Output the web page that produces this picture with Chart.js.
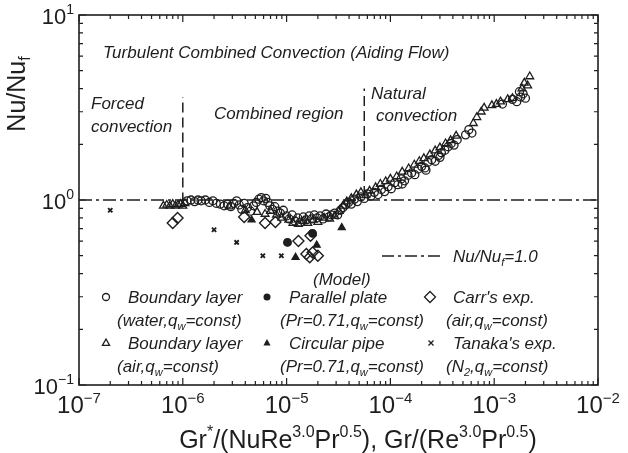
<!DOCTYPE html>
<html>
<head>
<meta charset="utf-8">
<script src="https://cdn.jsdelivr.net/npm/chart.js@4.4.1/dist/chart.umd.min.js"></script>
<style>
  html, body { margin: 0; padding: 0; background: #fff; }
  #wrap { width: 628px; height: 453px; }
</style>
</head>
<body>
<div id="wrap"><canvas id="chart" width="628" height="453"></canvas></div>
<script>
// values: [Gr/(Re^3 Pr^0.5), Nu/Nu_f]
const waterBL = [
  [1.1e-6,0.99],[1.2e-6,1.0],[1.3e-6,0.98],[1.4e-6,1.0],[1.5e-6,0.99],[1.65e-6,1.0],[1.8e-6,0.97],[1.95e-6,0.99],
  [2.1e-6,0.96],[2.3e-6,0.95],[2.5e-6,0.93],[2.7e-6,0.95],[2.9e-6,0.92],[3.1e-6,0.96],[3.3e-6,0.99],[3.5e-6,0.94],
  [3.7e-6,0.89],[3.9e-6,0.96],[4.2e-6,0.91],[4.5e-6,0.87],[4.8e-6,0.93],[5.1e-6,0.97],[5.4e-6,1.01],[5.7e-6,1.03],
  [6.0e-6,0.99],[6.3e-6,1.02],[6.6e-6,0.97],[6.9e-6,0.93],[7.3e-6,0.89],[7.7e-6,0.92],[8.2e-6,0.87],[8.7e-6,0.85],
  [9.3e-6,0.88],[1.0e-5,0.82],[1.06e-5,0.79],[1.13e-5,0.83],[1.2e-5,0.77],[1.28e-5,0.80],[1.36e-5,0.76],[1.45e-5,0.81],
  [1.55e-5,0.78],[1.65e-5,0.82],[1.75e-5,0.79],[1.85e-5,0.83],[1.97e-5,0.80],[2.1e-5,0.82],[2.25e-5,0.79],[2.4e-5,0.84],
  [2.55e-5,0.81],[2.7e-5,0.83],[2.9e-5,0.85],[3.1e-5,0.83],[3.3e-5,0.88],[3.5e-5,0.91],[3.7e-5,0.94],[3.95e-5,0.97],
  [4.2e-5,0.95],[4.5e-5,1.01],[4.8e-5,0.98],[5.2e-5,1.04],[5.6e-5,1.02],[6.0e-5,1.08],[6.5e-5,1.05],[7.0e-5,1.1],
  [7.6e-5,1.07],[8.2e-5,1.14],[8.8e-5,1.11],[9.5e-5,1.18],[1.02e-4,1.15],[1.1e-4,1.24],[1.18e-4,1.21],[1.27e-4,1.3],
  [1.3e-4,1.22],[1.37e-4,1.27],[1.48e-4,1.36],[1.6e-4,1.4],[1.72e-4,1.37],[1.85e-4,1.47],[2.0e-4,1.52],[2.15e-4,1.49],
  [2.2e-4,1.45],[2.3e-4,1.6],[2.5e-4,1.65],[2.7e-4,1.62],[2.9e-4,1.74],[3.0e-4,1.7],[3.1e-4,1.8],[3.35e-4,1.86],
  [3.6e-4,1.94],[3.85e-4,2.02],[4.1e-4,1.98],[4.4e-4,2.12],[5.3e-4,2.25],[5.7e-4,2.4],[6.1e-4,2.3],[1.2e-3,3.3],
  [1.5e-3,3.5],[1.65e-3,3.4],[1.75e-3,3.85],[1.8e-3,3.6],[1.9e-3,3.75],[2.0e-3,3.55]
];
const airBL = [
  [6.5e-7,0.93],[7.0e-7,0.94],[7.5e-7,0.93],[8.0e-7,0.95],[8.5e-7,0.93],[9.0e-7,0.94],[9.5e-7,0.95],[1.0e-6,0.93],
  [1.05e-6,0.96],[2.8e-6,0.92],[4.0e-6,0.88],[5.2e-6,0.86],[6.2e-6,0.84],[7.0e-6,0.87],[8.0e-6,0.83],[9.0e-6,0.80],
  [1.05e-5,0.78],[1.15e-5,0.75],[1.3e-5,0.74],[1.45e-5,0.77],[1.6e-5,0.75],[1.8e-5,0.78],[2.0e-5,0.76],[2.3e-5,0.80],
  [2.6e-5,0.79],[2.9e-5,0.82],[3.2e-5,0.87],[3.5e-5,0.93],[3.8e-5,0.98],[4.2e-5,1.02],[4.7e-5,1.07],[5.2e-5,1.1],
  [5.8e-5,1.06],[6.3e-5,1.12],[7.2e-5,1.17],[8.0e-5,1.22],[9.0e-5,1.26],[1.0e-4,1.3],[1.15e-4,1.34],[1.3e-4,1.42],
  [1.5e-4,1.48],[1.7e-4,1.55],[1.9e-4,1.62],[2.1e-4,1.68],[2.4e-4,1.76],[2.7e-4,1.85],[3.0e-4,1.92],[3.4e-4,2.02],
  [3.8e-4,2.1],[4.3e-4,2.22],[6.3e-4,2.6],[6.8e-4,2.8],[7.5e-4,3.0],[8.0e-4,3.15],[9.5e-4,3.25],[1.05e-3,3.3],
  [1.15e-3,3.4],[1.35e-3,3.5],[1.5e-3,3.55],[1.85e-3,4.0],[1.95e-3,4.3],[2.1e-3,4.15],[2.2e-3,4.65]
];
const parallelPlate = [[1.02e-5,0.59],[1.78e-5,0.66]];
const circularPipe = [[4.6e-6,0.78],[1.22e-5,0.49],[1.95e-5,0.57],[3.4e-5,0.71]];
const carrExp = [
  [8.0e-7,0.75],[8.9e-7,0.80],[3.9e-6,0.81],[6.2e-6,0.75],[7.8e-6,0.76],[1.3e-5,0.60],
  [1.7e-5,0.64],[1.55e-5,0.51],[1.67e-5,0.49],[1.78e-5,0.52],[2.0e-5,0.50]
];
const tanakaExp = [[2.0e-7,0.88],[2.0e-6,0.69],[3.3e-6,0.59],[5.9e-6,0.50],[8.9e-6,0.50]];

// Nu/Nu_f = 1 reference, region borders
const unityLine = [[1e-7,1.0],[1e-2,1.0]];
const forcedBorder = [[1e-6,0.97],[1e-6,3.6]];
const naturalBorder = [[5.6e-5,1.05],[5.6e-5,4.0]];

// axis decades
const xDecades = [1e-7,1e-6,1e-5,1e-4,1e-3,1e-2];
const xExponents = ['\u22127','\u22126','\u22125','\u22124','\u22123','\u22122'];
const yDecades = [0.1,1,10];
const yExponents = ['\u22121','0','1'];
const minorSteps = [2,3,4,5,6,7,8,9];

const INK = '#1e1e1e';
const FAMILY = '"Liberation Sans", Arial, sans-serif';

const toXY = arr => arr.map(p => ({ x: p[0], y: p[1] }));

function fontFor(size, mode, italic) {
  const s = mode === 0 ? size : Math.round(size * 0.62);
  return (italic ? 'italic ' : '') + s + 'px ' + FAMILY;
}

// parts: [text, mode]  mode 0 normal, 1 superscript, -1 subscript
function drawRich(ctx, parts, x, y, size, align, italic) {
  let w = 0;
  for (const [t, m] of parts) { ctx.font = fontFor(size, m, italic); w += ctx.measureText(t).width; }
  let cx = align === 'center' ? x - w / 2 : align === 'right' ? x - w : x;
  ctx.textAlign = 'left';
  ctx.textBaseline = 'alphabetic';
  const base = y + size * 0.35;
  for (const [t, m] of parts) {
    ctx.font = fontFor(size, m, italic);
    const dy = m === 1 ? -size * 0.42 : m === -1 ? size * 0.22 : 0;
    ctx.fillText(t, cx, base + dy);
    cx += ctx.measureText(t).width;
  }
}

function drawMarker(ctx, kind, x, y, r) {
  ctx.save();
  ctx.strokeStyle = INK; ctx.fillStyle = INK; ctx.lineWidth = 1.3;
  ctx.beginPath();
  if (kind === 'circle' || kind === 'dot') {
    ctx.arc(x, y, r, 0, Math.PI * 2);
  } else if (kind === 'tri' || kind === 'filltri') {
    ctx.moveTo(x, y - r); ctx.lineTo(x + r * 0.9, y + r * 0.6); ctx.lineTo(x - r * 0.9, y + r * 0.6); ctx.closePath();
  } else if (kind === 'diamond') {
    ctx.moveTo(x, y - r); ctx.lineTo(x + r, y); ctx.lineTo(x, y + r); ctx.lineTo(x - r, y); ctx.closePath();
  } else if (kind === 'cross') {
    ctx.moveTo(x - r, y - r); ctx.lineTo(x + r, y + r); ctx.moveTo(x + r, y - r); ctx.lineTo(x - r, y + r);
  }
  if (kind === 'dot' || kind === 'filltri') ctx.fill(); else ctx.stroke();
  ctx.restore();
}

const framePlugin = {
  id: 'frame',
  afterDraw(chart) {
    const ctx = chart.ctx;
    const a = chart.chartArea;
    const xs = chart.scales.x, ys = chart.scales.y;
    ctx.save();
    ctx.strokeStyle = INK; ctx.fillStyle = INK;
    ctx.lineWidth = 1.6;
    ctx.strokeRect(a.left, a.top, a.right - a.left, a.bottom - a.top);

    // inward tick marks on all four sides
    ctx.lineWidth = 1.2;
    ctx.beginPath();
    xDecades.forEach(d => {
      [1].concat(minorSteps).forEach(m => {
        const v = d * m;
        if (v > xs.max * 1.0001) return;
        const px = xs.getPixelForValue(v);
        const len = m === 1 ? 7 : 4;
        ctx.moveTo(px, a.bottom); ctx.lineTo(px, a.bottom - len);
        ctx.moveTo(px, a.top); ctx.lineTo(px, a.top + len);
      });
    });
    yDecades.forEach(d => {
      [1].concat(minorSteps).forEach(m => {
        const v = d * m;
        if (v > ys.max * 1.0001) return;
        const py = ys.getPixelForValue(v);
        const len = m === 1 ? 7 : 4;
        ctx.moveTo(a.left, py); ctx.lineTo(a.left + len, py);
        ctx.moveTo(a.right, py); ctx.lineTo(a.right - len, py);
      });
    });
    ctx.stroke();

    // decade labels
    xDecades.forEach((d, i) => {
      drawRich(ctx, [['10', 0], [xExponents[i], 1]], xs.getPixelForValue(d), a.bottom + 20, 24, 'center', false);
    });
    yDecades.forEach((d, i) => {
      drawRich(ctx, [['10', 0], [yExponents[i], 1]], a.left - 5, ys.getPixelForValue(d) + 1, 22, 'right', false);
    });

    // axis titles
    drawRich(ctx, [['Gr', 0], ['*', 1], ['/(NuRe', 0], ['3.0', 1], ['Pr', 0], ['0.5', 1], ['), Gr/(Re', 0], ['3.0', 1], ['Pr', 0], ['0.5', 1], [')', 0]],
      358, 439, 25, 'center', false);
    ctx.save();
    ctx.translate(16, 94);
    ctx.rotate(-Math.PI / 2);
    drawRich(ctx, [['Nu/Nu', 0], ['f', -1]], 0, 0, 25, 'center', false);
    ctx.restore();

    // annotations
    const it = 17;
    drawRich(ctx, [['Turbulent Combined Convection (Aiding Flow)', 0]], 103, 52, it, 'left', true);
    drawRich(ctx, [['Forced', 0]], 91, 103, it, 'left', true);
    drawRich(ctx, [['convection', 0]], 91, 126, it, 'left', true);
    drawRich(ctx, [['Combined region', 0]], 214, 113, it, 'left', true);
    drawRich(ctx, [['Natural', 0]], 371, 93, it, 'left', true);
    drawRich(ctx, [['convection', 0]], 376, 115, it, 'left', true);
    drawRich(ctx, [['(Model)', 0]], 313, 279, it, 'left', true);

    ctx.save();
    ctx.lineWidth = 1.5;
    ctx.setLineDash([12, 4, 3, 4]);
    ctx.beginPath(); ctx.moveTo(382, 256); ctx.lineTo(444, 256); ctx.stroke();
    ctx.restore();
    drawRich(ctx, [['Nu/Nu', 0], ['f', -1], ['=1.0', 0]], 453, 256, it, 'left', true);

    // legend
    const r1 = 297, r1b = 320, r2 = 343, r2b = 366;
    drawMarker(ctx, 'circle', 106, r1, 3.5);
    drawRich(ctx, [['Boundary layer', 0]], 128, r1, it, 'left', true);
    drawRich(ctx, [['(water,q', 0], ['w', -1], ['=const)', 0]], 117, r1b, it, 'left', true);
    drawMarker(ctx, 'dot', 267, r1, 3.5);
    drawRich(ctx, [['Parallel plate', 0]], 289, r1, it, 'left', true);
    drawRich(ctx, [['(Pr=0.71,q', 0], ['w', -1], ['=const)', 0]], 280, r1b, it, 'left', true);
    drawMarker(ctx, 'diamond', 430, r1, 5.5);
    drawRich(ctx, [["Carr's exp.", 0]], 453, r1, it, 'left', true);
    drawRich(ctx, [['(air,q', 0], ['w', -1], ['=const)', 0]], 446, r1b, it, 'left', true);

    drawMarker(ctx, 'tri', 106, r2, 4);
    drawRich(ctx, [['Boundary layer', 0]], 128, r2, it, 'left', true);
    drawRich(ctx, [['(air,q', 0], ['w', -1], ['=const)', 0]], 117, r2b, it, 'left', true);
    drawMarker(ctx, 'filltri', 267, r2, 4);
    drawRich(ctx, [['Circular pipe', 0]], 289, r2, it, 'left', true);
    drawRich(ctx, [['(Pr=0.71,q', 0], ['w', -1], ['=const)', 0]], 280, r2b, it, 'left', true);
    drawMarker(ctx, 'cross', 431, r2, 2.5);
    drawRich(ctx, [["Tanaka's exp.", 0]], 453, r2, it, 'left', true);
    drawRich(ctx, [['(N', 0], ['2', -1], [',q', 0], ['w', -1], ['=const)', 0]], 446, r2b, it, 'left', true);

    ctx.restore();
  }
};

const pointSet = (data, style, radius, filled, width) => ({
  data: toXY(data),
  pointStyle: style,
  pointRadius: radius,
  pointBorderWidth: width || 1.3,
  pointBorderColor: INK,
  pointBackgroundColor: filled ? INK : 'rgba(0,0,0,0)',
  showLine: false
});

const lineSet = (data, dash, width) => ({
  data: toXY(data),
  showLine: true,
  borderColor: INK,
  borderWidth: width,
  borderDash: dash,
  pointRadius: 0
});

new Chart(document.getElementById('chart'), {
  type: 'scatter',
  data: {
    datasets: [
      pointSet(waterBL, 'circle', 4, false),
      pointSet(airBL, 'triangle', 4.5, false),
      pointSet(parallelPlate, 'circle', 3.8, true),
      pointSet(circularPipe, 'triangle', 4, true),
      pointSet(carrExp, 'rectRot', 5.5, false, 1.4),
      pointSet(tanakaExp, 'crossRot', 3, false, 1.9),
      lineSet(unityLine, [13, 4, 3, 4], 1.5),
      lineSet(forcedBorder, [10, 5], 1.5),
      lineSet(naturalBorder, [10, 5], 1.5)
    ]
  },
  options: {
    responsive: false,
    animation: false,
    layout: { padding: { left: 0, right: 30, top: 15, bottom: 0 }, autoPadding: false },
    plugins: { legend: { display: false }, tooltip: { enabled: false } },
    scales: {
      x: {
        type: 'logarithmic', min: 1e-7, max: 1e-2,
        ticks: { display: false }, grid: { display: false }, border: { display: false },
        afterFit: s => { s.height = 68; }
      },
      y: {
        type: 'logarithmic', min: 0.1, max: 10,
        ticks: { display: false }, grid: { display: false }, border: { display: false },
        afterFit: s => { s.width = 79; }
      }
    }
  },
  plugins: [framePlugin]
});
</script>
</body>
</html>
